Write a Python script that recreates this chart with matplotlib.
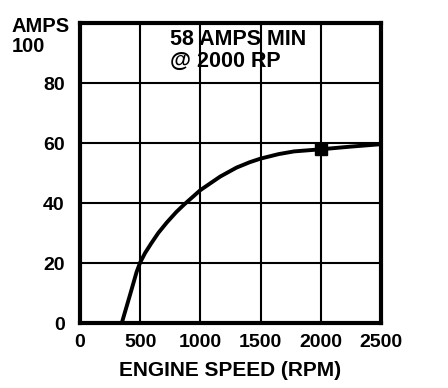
import matplotlib
matplotlib.use("Agg")
import matplotlib.pyplot as plt

plt.rcParams['font.family'] = ['Liberation Sans', 'DejaVu Sans']
plt.rcParams['font.weight'] = 'bold'

# curve
rpm = [347, 420, 470, 500, 540, 591, 650, 721, 800, 865, 1000, 1164, 1300,
       1410, 1500, 1650, 1778, 2000, 2250, 2500]
amps = [0, 10, 17, 20.2, 23.3, 26.5, 30.0, 33.5, 37, 39.5, 44.3, 48.8, 51.8,
        53.6, 54.8, 56.3, 57.2, 57.9, 58.8, 59.6]

# rated point
rated_rpm = [2000]
rated_amps = [57.9]

xticks = [0, 500, 1000, 1500, 2000, 2500]
yticks = [0, 20, 40, 60, 80]

fig = plt.figure(figsize=(4.48, 3.88), dpi=100)
ax = fig.add_axes([80 / 448, 65 / 388, 301 / 448, 300 / 388])

ax.plot(rpm, amps, color='black', lw=2.8, solid_joinstyle='round')
ax.plot(rated_rpm, rated_amps, 's', color='black', ms=8)

ax.set_xlim(0, 2500)
ax.set_ylim(0, 100)
ax.set_xticks(xticks)
ax.set_yticks(yticks)
ax.tick_params(length=0, labelsize=14)
ax.tick_params(axis='x', pad=8)
ax.tick_params(axis='y', pad=11)
ax.grid(True, color='black', lw=1.5)
for s in ax.spines.values():
    s.set_linewidth(3)

ax.set_xlabel('ENGINE SPEED (RPM)', fontsize=15, fontweight='bold', labelpad=7)
fig.text(12 / 448, 1 - 26 / 388, 'AMPS', fontsize=14.5, fontweight='bold', va='center')
fig.text(12 / 448, 1 - 46 / 388, '100', fontsize=14.5, fontweight='bold', va='center')
ax.text(0.30, 0.98, '58 AMPS MIN\n@ 2000 RP', transform=ax.transAxes,
        fontsize=15.5, fontweight='bold', va='top', ha='left', linespacing=1.05)

fig.savefig('out.png', dpi=100)
